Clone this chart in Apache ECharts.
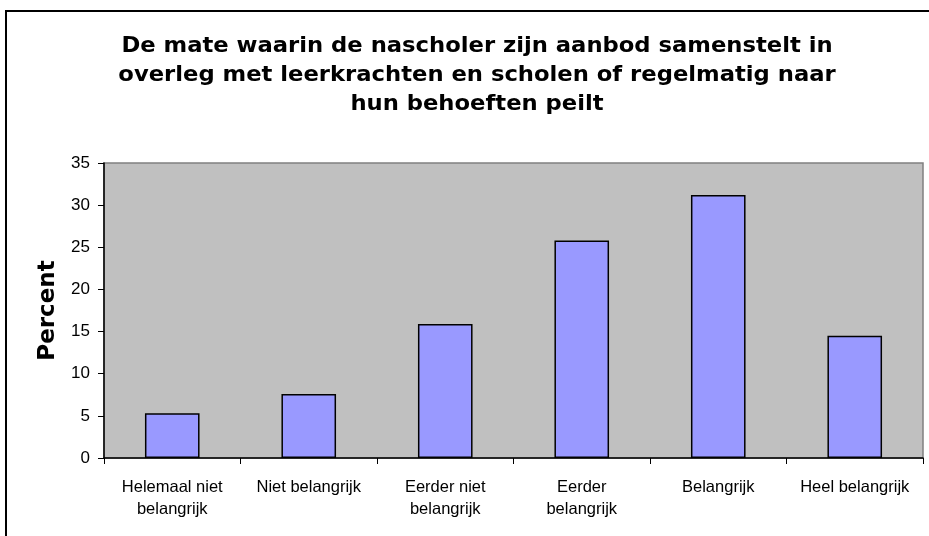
<!DOCTYPE html>
<html>
<head>
<meta charset="utf-8">
<script src="https://cdn.jsdelivr.net/npm/echarts@6/dist/echarts.min.js"></script>
<style>
  html, body { margin: 0; padding: 0; background: #fff; }
  #chart { width: 929px; height: 536px; }
</style>
</head>
<body>
<div id="chart"></div>
<script>
// Response categories (x axis)
const categories = [
  'Helemaal niet\nbelangrijk',
  'Niet belangrijk',
  'Eerder niet\nbelangrijk',
  'Eerder\nbelangrijk',
  'Belangrijk',
  'Heel belangrijk'
];
// Share of respondents per category, in percent
const percentValues = [5.3, 7.6, 15.9, 25.8, 31.2, 14.5];
// Value axis range
const yMin = 0;
const yMax = 35;
const yStep = 5;

const titleText = 'De mate waarin de nascholer zijn aanbod samenstelt in\noverleg met leerkrachten en scholen of regelmatig naar\nhun behoeften peilt';

const chart = echarts.init(document.getElementById('chart'), null, { renderer: 'canvas' });

chart.setOption({
  animation: false,
  backgroundColor: '#ffffff',
  graphic: [
    {
      // chart frame
      type: 'rect',
      shape: { x: 6, y: 11, width: 960, height: 600 },
      style: { fill: 'none', stroke: '#000', lineWidth: 2 },
      silent: true,
      z: 100
    },
    {
      // three-line heading, slightly widened bold face
      type: 'text',
      x: 477,
      y: 32,
      scaleX: 1.08,
      silent: true,
      style: {
        text: titleText,
        fontFamily: 'DejaVu Sans',
        fontWeight: 'bold',
        fontSize: 21,
        lineHeight: 29,
        textAlign: 'center',
        textVerticalAlign: 'top',
        fill: '#000'
      }
    }
  ],
  grid: {
    left: 104,
    right: 6,
    top: 163,
    bottom: 78,
    show: true,
    backgroundColor: '#C0C0C0',
    borderColor: '#808080',
    borderWidth: 1.5
  },
  xAxis: {
    type: 'category',
    data: categories,
    boundaryGap: true,
    axisLine: { show: true, lineStyle: { color: '#000', width: 1.5 } },
    axisTick: { show: true, length: 6, lineStyle: { color: '#000' } },
    axisLabel: {
      interval: 0,
      margin: 18,
      fontFamily: 'Liberation Sans',
      fontSize: 16.5,
      lineHeight: 22,
      color: '#000'
    }
  },
  yAxis: {
    type: 'value',
    min: yMin,
    max: yMax,
    interval: yStep,
    name: 'Percent',
    nameLocation: 'middle',
    nameGap: 44,
    nameRotate: 90,
    nameTextStyle: {
      fontFamily: 'DejaVu Sans',
      fontWeight: 'bold',
      fontSize: 23,
      color: '#000'
    },
    splitLine: { show: false },
    axisLine: { show: true, lineStyle: { color: '#000', width: 1.5 } },
    axisTick: { show: true, length: 6, lineStyle: { color: '#000' } },
    axisLabel: {
      margin: 14,
      fontFamily: 'Liberation Sans',
      fontSize: 17,
      color: '#000'
    }
  },
  series: [{
    type: 'bar',
    data: percentValues,
    barWidth: '40%',
    itemStyle: {
      color: '#9999FF',
      borderColor: '#000',
      borderWidth: 1.5
    }
  }]
});
</script>
</body>
</html>
